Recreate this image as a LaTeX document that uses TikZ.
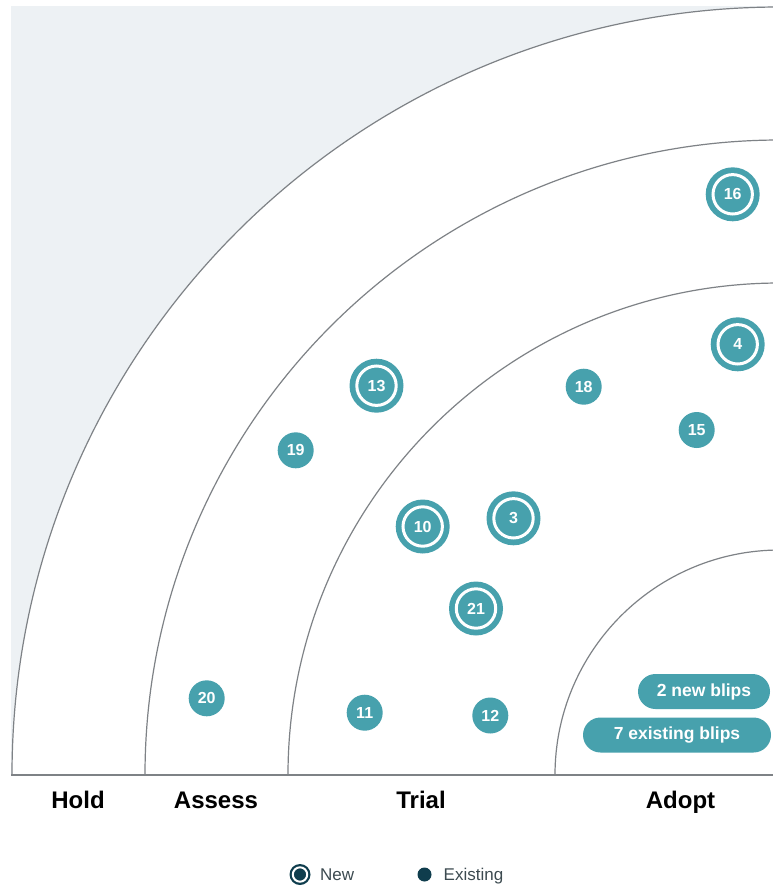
\documentclass[tikz,border=0pt]{standalone}
\usepackage{fontspec}
\setmainfont{Liberation Sans}
\definecolor{teal1}{HTML}{47A1AD}
\definecolor{darkt}{HTML}{0F3D4D}
\definecolor{bggray}{HTML}{EDF1F4}
\definecolor{arcgray}{HTML}{7E8286}
\definecolor{legtext}{HTML}{3C4A50}
\tikzset{
  oldblip/.style={circle, fill=teal1, minimum size=36pt, inner sep=0pt, text=white,
    font=\bfseries\fontsize{16}{16}\selectfont},
  newblip/.style={circle, fill=teal1, minimum size=54pt, inner sep=0pt, text=white,
    font=\bfseries\fontsize{16}{16}\selectfont,
    path picture={\draw[white, line width=3pt] (path picture bounding box.center) circle (19.7pt);}},
  ringlabel/.style={anchor=base, font=\bfseries\fontsize{24}{28}\selectfont, text=black},
  pill/.style={rectangle, rounded corners=17.5pt, fill=teal1, minimum height=35pt, inner sep=0pt,
    text=white, font=\bfseries\fontsize{17.5}{20}\selectfont},
  legnew/.style={circle, fill=darkt, minimum size=21pt, inner sep=0pt,
    path picture={\draw[white, line width=2pt] (path picture bounding box.center) circle (7.2pt);}},
  legold/.style={circle, fill=darkt, minimum size=14pt, inner sep=0pt},
  legtxt/.style={anchor=base west, inner sep=0pt, text=legtext, font=\fontsize{17}{19}\selectfont},
  ringarc/.style={draw=arcgray, line width=1.2pt}
}
\begin{document}
\begin{tikzpicture}[x=1pt,y=-1pt]
\useasboundingbox (0,0) rectangle (773,887);
% background
\fill[bggray] (11,6) rectangle (773,775);
\begin{scope}
  \clip (11,0) rectangle (773,775);
  \fill[white] (780,775) circle (768);
  \draw[ringarc] (780,775) circle (768);
  \draw[ringarc] (780,775) circle (635);
  \draw[ringarc] (780,775) circle (492);
  \draw[ringarc] (780,775) circle (225);
\end{scope}
\coordinate (bl) at (11,775);
\coordinate (br) at (773,775);
\draw[ringarc] (bl) -- (br);
% ring labels
\node[ringlabel] (hold) at (78,808) {Hold};
\node[ringlabel] (assess) at (216,808) {Assess};
\node[ringlabel] (trial) at (421,808) {Trial};
\node[ringlabel] (adopt) at (680.5,808) {Adopt};
% blips
\node[newblip] (b16) at (732.7,194.3) {16};
\node[newblip] (b4) at (737.7,344.3) {4};
\node[newblip] (b13) at (376.5,385.7) {13};
\node[oldblip] (b18) at (583.7,386.7) {18};
\node[oldblip] (b15) at (696.7,430) {15};
\node[oldblip] (b19) at (295.7,450.3) {19};
\node[newblip] (b10) at (422.7,526.5) {10};
\node[newblip] (b3) at (513.5,518.3) {3};
\node[newblip] (b21) at (476,608.5) {21};
\node[oldblip] (b20) at (206.7,698.3) {20};
\node[oldblip] (b11) at (364.7,712.7) {11};
\node[oldblip] (b12) at (490.3,715.5) {12};
% pills
\node[pill, minimum width=132pt] (pnew) at (704,691.5) {2 new blips};
\node[pill, minimum width=188pt] (pold) at (677,735) {7 existing blips};
% legend
\node[legnew] (lnew) at (300,874.5) {};
\node[legtxt] (tnew) at (320,880) {New};
\node[legold] (lold) at (424.5,874.5) {};
\node[legtxt] (told) at (443.5,880) {Existing};
\end{tikzpicture}
\end{document}
